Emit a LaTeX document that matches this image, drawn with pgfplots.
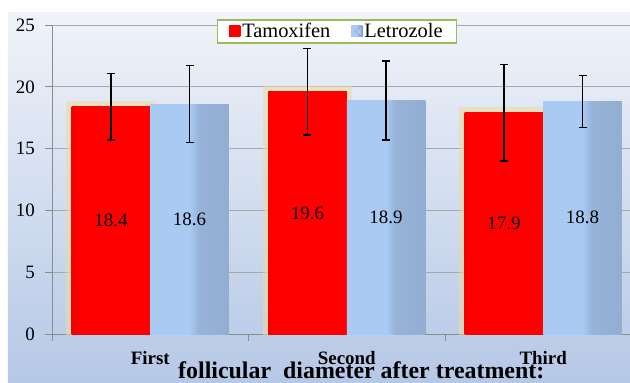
\documentclass[border=0pt]{standalone}
\usepackage{fontspec}
\setmainfont{Liberation Serif}
\usepackage{pgfplots}
\pgfplotsset{compat=1.18}
\definecolor{redmain}{HTML}{FF0000}
\definecolor{reddark}{HTML}{C80000}
\definecolor{bluemain}{HTML}{A8CAF3}
\definecolor{blueleft}{HTML}{9BBBE5}
\definecolor{bluemid}{HTML}{8FA9CC}
\definecolor{bluedark}{HTML}{4F6078}
\definecolor{bgtop}{HTML}{F0F3F9}
\definecolor{bgbot}{HTML}{B5C8E6}
\definecolor{gridc}{HTML}{A8A8A8}
\definecolor{axisc}{HTML}{8C8C8C}
\definecolor{legc}{HTML}{9BBB59}
\definecolor{glowc}{HTML}{EDDC9C}
\pgfdeclarehorizontalshading{redbar}{100bp}{color(0bp)=(reddark); color(16bp)=(redmain!92!black); color(30bp)=(redmain); color(85bp)=(redmain); color(100bp)=(redmain!92!white)}
\pgfdeclarehorizontalshading{bluebar}{100bp}{color(0bp)=(blueleft); color(15bp)=(bluemain); color(50bp)=(bluemain); color(56bp)=(bluemid!70!bluemain); color(90bp)=(bluemid); color(100bp)=(bluedark)}
\pgfplotsset{
  redbarstyle/.style={ybar, bar width=0.4, bar shift=-0.2, draw=none, shading=redbar},
  bluebarstyle/.style={ybar, bar width=0.4, bar shift=0.2, draw=none, shading=bluebar},
  errstyle/.style={draw=none, mark=none, forget plot, error bars/.cd, y dir=both, y explicit, error bar style={black, line width=1.4bp}, error mark options={black, rotate=90, mark size=4bp, line width=1.4bp}},
}
\begin{document}
\begin{tikzpicture}
\path[use as bounding box] (-52bp,-49bp) rectangle (578bp,334bp);
\fill[white] (-52bp,-49bp) rectangle (578bp,334bp);
\shade[top color=bgtop, bottom color=bgbot] (-44bp,-49bp) rectangle (578bp,321bp);
\begin{axis}[
  at={(0,0)}, anchor=south west,
  scale only axis, width=578bp, height=309bp,
  xmin=0.5, xmax=3.4415, ymin=0, ymax=25,
  ytick={0,5,10,15,20,25},
  ymajorgrids, grid style={gridc, line width=0.8bp},
  axis x line*=bottom, axis y line*=left,
  axis line style={axisc, line width=0.8bp},
  tick style={axisc, line width=0.8bp},
  tick align=outside, major tick length=7bp,
  xtick={0.5,1.5,2.5}, xticklabels={},
  extra x ticks={1,2,3}, extra x tick labels={First,Second,Third},
  extra x tick style={major tick length=0pt, tick label style={font=\bfseries\fontsize{19}{19}\selectfont, anchor=base, yshift=-30bp}},
  /pgf/number format/assume math mode=true,
  yticklabel style={font=\fontsize{19}{19}\selectfont, inner sep=0pt, xshift=-10bp},
  xlabel={follicular\ \ diameter after treatment:},
  xlabel style={font=\bfseries\fontsize{24}{24}\selectfont, at={(axis description cs:0.535,0)}, anchor=base, yshift=-44bp},
  legend style={at={(axis description cs:0.493,0.979)}, anchor=center, draw=legc, line width=1.3bp, fill=white, font=\fontsize{20.5}{20.5}\selectfont, inner xsep=12bp, inner ysep=1.5bp, /tikz/every even column/.append style={column sep=19bp}},
  legend columns=2,
]
\addplot[ybar, bar width=0.4, bar shift=-0.2, fill=glowc, draw=glowc, line width=11bp, opacity=0.55, forget plot] coordinates {(1,18.4) (2,19.6) (3,17.9)};
\addplot[redbarstyle,
  legend image code/.code={\fill[redmain] (0bp,-5.5bp) rectangle (11bp,5.5bp); \fill[reddark] (0bp,-5.5bp) rectangle (3bp,5.5bp);}]
  coordinates {(1,18.4)};
\addlegendentry{Tamoxifen}
\addplot[bluebarstyle,
  legend image code/.code={\fill[bluemid] (0bp,-5.5bp) rectangle (11bp,5.5bp); \fill[bluemain] (0bp,-5.5bp) -- (5.5bp,0bp) -- (0bp,5.5bp) -- cycle; \fill[bluedark] (11bp,-5.5bp) -- (5.5bp,0bp) -- (11bp,5.5bp) -- cycle;}]
  coordinates {(1,18.6)};
\addlegendentry{Letrozole}
\addplot[redbarstyle, forget plot] coordinates {(2,19.6)};
\addplot[redbarstyle, forget plot] coordinates {(3,17.9)};
\addplot[bluebarstyle, forget plot] coordinates {(2,18.9)};
\addplot[bluebarstyle, forget plot] coordinates {(3,18.8)};
\addplot[errstyle] coordinates {(0.8,18.4) +- (0,2.7) (1.8,19.6) +- (0,3.5) (2.8,17.9) +- (0,3.9)};
\addplot[errstyle] coordinates {(1.2,18.6) +- (0,3.1) (2.2,18.9) +- (0,3.2) (3.2,18.8) +- (0,2.1)};
\addplot[draw=none, mark=none, forget plot, nodes near coords, point meta=explicit symbolic,
  every node near coord/.append style={anchor=center, font=\fontsize{19}{19}\selectfont, text=black}]
  coordinates {(0.8,9.2)[18.4] (1.2,9.3)[18.6] (1.8,9.8)[19.6] (2.2,9.45)[18.9] (2.8,8.95)[17.9] (3.2,9.4)[18.8]};
\end{axis}
\end{tikzpicture}
\end{document}
